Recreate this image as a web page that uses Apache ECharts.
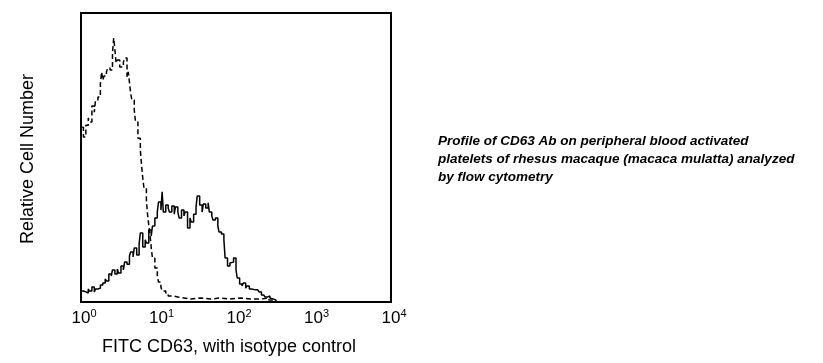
<!DOCTYPE html>
<html>
<head>
<meta charset="utf-8">
<script src="https://cdn.jsdelivr.net/npm/echarts@6/dist/echarts.min.js"></script>
<style>html,body{margin:0;padding:0;background:#fff;}#c{width:823px;height:363px;}</style>
</head>
<body>
<div id="c"></div>
<script>
// 256-channel, 4-decade log scale (64 channels per decade)
const decadeTicks = [0, 1, 2, 3, 4];

// CD63 (solid)
const cd63Channels = [0,2,4,6,7,9,11,12,14,16,18,20,21,23,25,26,28,30,31,33,35,36,38,40,41,43,44,46,48,49,51,53,54,56,58,59,61,63,64,66,67,68,70,72,73,75,77,78,80,81,83,85,86,88,90,91,93,95,96,98,100,101,103,105,106,108,109,111,113,114,116,118,119,121,123,124,126,128,129,131,133,134,136,137,139,141,142,144,146,147,149,151,152,154,156,157,159,161,162,200,256];
const cd63Counts = [12.8,3.8,3.5,3.1,4.5,3.8,5.2,3.5,4.5,4.8,5.9,6.6,8.0,7.3,9.7,9.0,11.1,9.7,11.4,10.0,12.5,11.1,13.8,13.1,15.9,17.3,15.6,18.7,16.3,20.1,23.9,19.0,21.5,20.4,24.9,22.8,26.3,29.1,31.1,34.6,31.8,38.1,31.1,33.6,32.5,31.1,33.2,30.4,32.9,31.1,29.1,31.8,29.8,31.1,25.6,29.1,27.7,30.4,32.9,36.7,33.6,31.1,33.9,32.5,34.3,31.1,29.8,28.4,29.1,26.3,24.2,23.5,21.5,15.2,12.5,13.5,13.8,15.2,11.1,8.3,6.2,5.5,6.6,4.8,5.5,4.5,4.8,4.2,4.2,4.8,3.5,2.4,2.8,1.7,2.1,1.4,1.0,0.7,0,0,0];

// Isotype control (dashed)
const isoChannels = [0,2,4,6,7,9,11,12,14,16,17,18,19,21,22,24,26,27,28,29,30,32,35,36,38,39,40,41,42,44,45,47,49,50,51,52,54,55,56,57,58,59,61,63,64,66,67,70,72,76,80,85,91,99,107,115,123,132,140,148,155,159,163,200,256];
const isoCounts = [52.6,60.5,57.1,61.2,63.7,62.3,67.8,65.7,69.9,70.9,75.4,79.6,76.8,78.2,79.6,81.0,80.3,86.2,91.3,87.2,82.7,83.7,81.3,83.0,84.4,77.9,79.6,76.1,72.3,69.9,66.4,62.3,56.7,52.6,47.4,42.9,39.4,35.3,30.1,26.6,23.2,18.7,15.2,11.8,9.3,6.9,5.2,3.8,3.1,2.1,1.7,1.4,1.0,1.4,1.0,1.4,1.0,1.4,1.0,1.0,1.4,0.7,0,0,0];

const xTitle = 'FITC CD63, with isotype control';
const yTitle = 'Relative Cell Number';
const caption = 'Profile of CD63 Ab on peripheral blood activated\nplatelets of rhesus macaque (macaca mulatta) analyzed\nby flow cytometry';

const zip = (a, b) => a.map((v, i) => [v, b[i]]);
const chart = echarts.init(document.getElementById('c'));
const font = '"Liberation Sans", Arial, sans-serif';
chart.setOption({
  animation: false,
  backgroundColor: '#fff',
  grid: { left: 81, right: 432, top: 13, bottom: 61, show: true, borderColor: '#000', borderWidth: 2, backgroundColor: 'transparent' },
  xAxis: {
    type: 'value', min: 0, max: 256, interval: 64,
    axisLine: { show: false }, axisTick: { show: false }, splitLine: { show: false },
    axisLabel: {
      margin: 6, padding: [0, 0, 0, 6], fontSize: 17, fontFamily: font, color: '#000',
      formatter: v => '{b|10}{s|' + decadeTicks[Math.round(v / 64)] + '}',
      rich: {
        b: { fontFamily: font, fontSize: 17, lineHeight: 20, color: '#000' },
        s: { fontFamily: font, fontSize: 11, lineHeight: 11, verticalAlign: 'top', color: '#000' }
      },
      showMinLabel: true, showMaxLabel: true, hideOverlap: false
    }
  },
  yAxis: {
    type: 'value', min: 0, max: 100,
    axisLine: { show: false }, axisTick: { show: false }, splitLine: { show: false }, axisLabel: { show: false }
  },
  graphic: [
    { type: 'text', x: 229, y: 347, style: { text: xTitle, font: '18px ' + font, fill: '#000', textAlign: 'center', textVerticalAlign: 'middle' } },
    { type: 'text', x: 28, y: 159, rotation: Math.PI / 2, style: { text: yTitle, font: '18px ' + font, fill: '#000', textAlign: 'center', textVerticalAlign: 'middle' } },
    { type: 'text', x: 438, y: 132, style: { text: caption, font: 'italic bold 13.5px ' + font, fill: '#000', lineHeight: 18, textAlign: 'left', textVerticalAlign: 'top' } }
  ],
  series: [
    { type: 'line', data: zip(isoChannels, isoCounts), step: 'start', symbol: 'none',
      lineStyle: { color: '#000', width: 1.5, type: [5, 3] } },
    { type: 'line', data: zip(cd63Channels, cd63Counts), step: 'start', symbol: 'none',
      lineStyle: { color: '#000', width: 1.5 } }
  ]
});
</script>
</body>
</html>
